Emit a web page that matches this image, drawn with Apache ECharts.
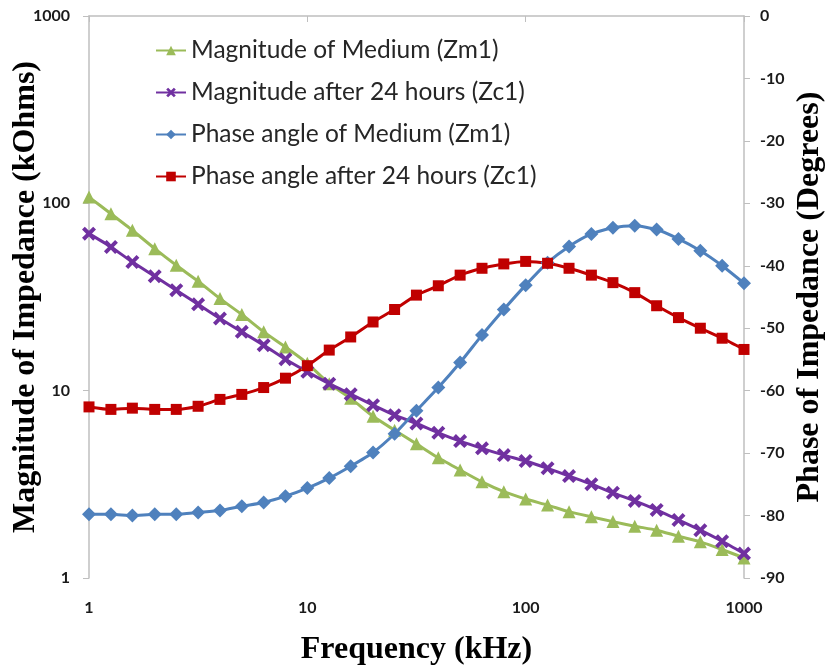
<!DOCTYPE html>
<html>
<head>
<meta charset="utf-8">
<script src="https://cdn.jsdelivr.net/npm/echarts@6/dist/echarts.min.js"></script>
<style>html,body{margin:0;padding:0;background:#fff}#c{width:825px;height:671px}</style>
</head>
<body>
<div id="c"></div>
<script>
const freq = [1,1.26,1.58,2,2.51,3.16,3.98,5.01,6.31,7.94,10,12.6,15.8,20,25.1,31.6,39.8,50.1,63.1,79.4,100,126,158,200,251,316,398,501,631,794,1000];
const magMedium = [108,88,71.8,57.3,46.7,38.4,31,25.5,20.6,17.1,14,10.9,9.1,7.3,6.15,5.2,4.38,3.77,3.26,2.89,2.64,2.45,2.26,2.12,2.0,1.89,1.80,1.67,1.56,1.42,1.28];
const mag24h = [68.9,58.5,48.6,40.8,34.4,28.9,24.3,20.6,17.5,14.7,12.6,10.9,9.58,8.37,7.4,6.68,5.96,5.38,4.92,4.53,4.21,3.85,3.5,3.17,2.85,2.58,2.31,2.04,1.8,1.57,1.35];
const phaseMedium = [-79.8,-79.8,-80.0,-79.8,-79.8,-79.5,-79.2,-78.5,-77.9,-76.9,-75.6,-74.0,-72.1,-69.9,-66.9,-63.2,-59.5,-55.5,-51.1,-47.0,-43.1,-39.5,-36.9,-34.9,-33.9,-33.6,-34.2,-35.7,-37.6,-40.0,-42.8];
const phase24h = [-62.6,-63.0,-62.8,-63.0,-63.0,-62.5,-61.4,-60.6,-59.5,-58.0,-56.0,-53.5,-51.4,-49.0,-47.0,-44.7,-43.2,-41.5,-40.4,-39.7,-39.3,-39.6,-40.4,-41.5,-42.7,-44.3,-46.4,-48.3,-50.0,-51.6,-53.4];
const seriesNames = ['Magnitude of Medium (Zm1)','Magnitude after 24 hours (Zc1)','Phase angle of Medium (Zm1)','Phase angle after 24 hours (Zc1)'];

const pair = arr => freq.map((f,i)=>[f,arr[i]]);
const xPath = 'path://M0,2 L2,0 L5,3 L8,0 L10,2 L7,5 L10,8 L8,10 L5,7 L2,10 L0,8 L3,5 Z';
const tickFont = {fontFamily:'Lato', fontWeight:'bold', fontSize:16, color:'#1a1a1a'};
const titleFont = {fontFamily:'Liberation Serif', fontWeight:'bold', fontSize:32, color:'#000'};
const axisLineStyle = {lineStyle:{color:'#bfbfbf', width:1.5}};
const plainNum = v => String(Math.round(v));

const chart = echarts.init(document.getElementById('c'), null, {renderer:'canvas'});
chart.setOption({
  animation:false,
  backgroundColor:'#fff',
  grid:{left:89, right:81, top:16, bottom:93, containLabel:false, outerBoundsMode:'none'},
  legend:{
    orient:'vertical', left:150, top:33, itemWidth:30, itemHeight:12, itemGap:17,
    textStyle:{fontFamily:'Lato', fontSize:24.5, color:'#262626'},
    data:seriesNames
  },
  xAxis:{
    type:'log', logBase:10, min:1, max:1000,
    name:'Frequency (kHz)', nameLocation:'middle', nameGap:56, nameTextStyle:titleFont,
    axisLine:axisLineStyle, axisTick:{show:true, length:6, lineStyle:{color:'#bfbfbf'}},
    axisLabel:Object.assign({margin:22, formatter:plainNum}, tickFont),
    splitLine:{show:false}, minorTick:{show:false}
  },
  yAxis:[{
    type:'log', logBase:10, min:1, max:1000, position:'left',
    name:'Magnitude of Impedance (kOhms)', nameLocation:'middle', nameGap:47, nameRotate:90, nameMoveOverlap:false, nameTextStyle:titleFont,
    axisLine:Object.assign({show:true}, axisLineStyle), axisTick:{show:true, length:6, lineStyle:{color:'#bfbfbf'}},
    axisLabel:Object.assign({margin:19, formatter:plainNum}, tickFont),
    splitLine:{show:false}
  },{
    type:'value', min:-90, max:0, interval:10, position:'right',
    name:'Phase of Impedance (Degrees)', nameLocation:'middle', nameGap:50, nameRotate:90, nameMoveOverlap:false, nameTextStyle:titleFont,
    axisLine:Object.assign({show:true}, axisLineStyle), axisTick:{show:true, length:6, lineStyle:{color:'#bfbfbf'}},
    axisLabel:Object.assign({margin:16}, tickFont),
    splitLine:{show:false}
  }],
  series:[
    {name:seriesNames[0], type:'line', yAxisIndex:0, data:pair(magMedium), smooth:0.2,
     symbol:'triangle', symbolSize:13, lineStyle:{width:3, color:'#9bbb59'}, itemStyle:{color:'#9bbb59'}},
    {name:seriesNames[1], type:'line', yAxisIndex:0, data:pair(mag24h), smooth:0.2,
     symbol:xPath, symbolSize:14, lineStyle:{width:3, color:'#7030a0'}, itemStyle:{color:'#7030a0'}},
    {name:seriesNames[2], type:'line', yAxisIndex:1, data:pair(phaseMedium), smooth:0.2,
     symbol:'diamond', symbolSize:14, lineStyle:{width:3, color:'#4f81bd'}, itemStyle:{color:'#4f81bd'}},
    {name:seriesNames[3], type:'line', yAxisIndex:1, data:pair(phase24h), smooth:0.2,
     symbol:'rect', symbolSize:11, lineStyle:{width:3, color:'#c00000'}, itemStyle:{color:'#c00000'}}
  ]
});
</script>
</body>
</html>
